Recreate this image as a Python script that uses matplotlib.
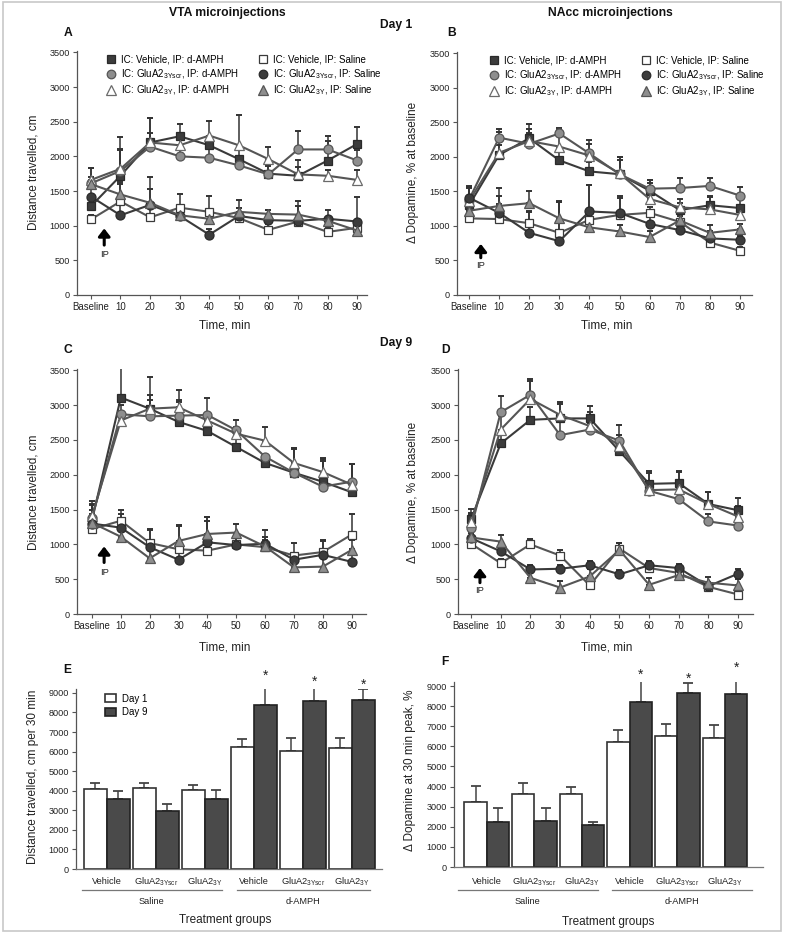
import matplotlib
matplotlib.use('Agg')
import numpy as np
import matplotlib.pyplot as plt
from matplotlib.lines import Line2D
from matplotlib.patches import Rectangle
import matplotlib.transforms as mtransforms

plt.rcParams['font.family'] = ['Liberation Sans', 'DejaVu Sans']
plt.rcParams['mathtext.fontset'] = 'custom'
plt.rcParams['mathtext.rm'] = 'Liberation Sans'
plt.rcParams['mathtext.it'] = 'Liberation Sans:italic'
plt.rcParams['mathtext.bf'] = 'Liberation Sans:bold'
plt.rcParams['mathtext.default'] = 'regular'

# ---------------- data ----------------
time_labels = ['Baseline', '10', '20', '30', '40', '50', '60', '70', '80', '90']

series_labels = ['IC: Vehicle, IP: d-AMPH', r'IC: GluA2$_{3Yscr}$, IP: d-AMPH',
                 r'IC: GluA2$_{3Y}$, IP: d-AMPH', 'IC: Vehicle, IP: Saline',
                 r'IC: GluA2$_{3Yscr}$, IP: Saline', r'IC: GluA2$_{3Y}$, IP: Saline']

# Panel A: VTA, Day 1, distance travelled (cm)
a_veh_amph = [1280, 1720, 2200, 2290, 2160, 1960, 1750, 1720, 1940, 2180]
a_scr_amph = [1610, 1790, 2140, 2000, 1980, 1870, 1740, 2100, 2100, 1940]
a_3y_amph = [1660, 1820, 2200, 2160, 2300, 2160, 1960, 1740, 1720, 1660]
a_veh_sal = [1090, 1350, 1120, 1260, 1200, 1110, 940, 1060, 910, 970]
a_scr_sal = [1420, 1150, 1300, 1140, 870, 1140, 1080, 1070, 1100, 1060]
a_3y_sal = [1600, 1450, 1330, 1150, 1100, 1200, 1170, 1160, 1070, 930]
a_veh_amph_err = [150, 560, 350, 180, 100, 160, 150, 230, 360, 250]
a_scr_amph_err = [220, 300, 200, 100, 130, 100, 120, 260, 120, 150]
a_3y_amph_err = [170, 290, 360, 120, 210, 440, 180, 100, 80, 150]
a_veh_sal_err = [60, 280, 200, 200, 230, 150, 80, 100, 70, 100]
a_scr_sal_err = [150, 250, 230, 150, 80, 120, 140, 280, 120, 360]
a_3y_sal_err = [100, 150, 370, 80, 120, 170, 60, 120, 50, 80]

# Panel B: NAcc, Day 1, dopamine (% at baseline)
b_veh_amph = [1300, 2030, 2270, 1950, 1790, 1750, 1510, 1230, 1300, 1260]
b_scr_amph = [1380, 2280, 2190, 2340, 2050, 1750, 1540, 1550, 1580, 1440]
b_3y_amph = [1360, 2060, 2230, 2150, 2020, 1760, 1390, 1270, 1240, 1160]
b_veh_sal = [1110, 1100, 1040, 900, 1090, 1160, 1190, 1060, 760, 640]
b_scr_sal = [1410, 1190, 900, 780, 1210, 1190, 1030, 940, 820, 800]
b_3y_sal = [1220, 1290, 1330, 1110, 980, 920, 840, 1080, 900, 950]
b_veh_amph_err = [250, 150, 210, 150, 130, 250, 150, 100, 120, 150]
b_scr_amph_err = [180, 130, 150, 80, 200, 250, 130, 140, 120, 120]
b_3y_amph_err = [200, 300, 180, 240, 170, 200, 230, 120, 200, 100]
b_veh_sal_err = [60, 220, 180, 450, 500, 250, 80, 80, 50, 60]
b_scr_sal_err = [170, 250, 300, 570, 380, 240, 140, 100, 100, 60]
b_3y_sal_err = [180, 260, 170, 250, 120, 100, 80, 200, 120, 80]

# Panel C: VTA, Day 9, distance travelled (cm)
c_veh_amph = [1350, 3110, 2950, 2760, 2630, 2400, 2170, 2030, 1900, 1750]
c_scr_amph = [1380, 2870, 2840, 2850, 2860, 2640, 2260, 2030, 1830, 1900]
c_3y_amph = [1410, 2780, 2950, 2970, 2780, 2590, 2490, 2170, 2040, 1860]
c_veh_sal = [1220, 1340, 1020, 930, 910, 1000, 960, 840, 890, 1140]
c_scr_sal = [1300, 1240, 960, 780, 1030, 990, 1010, 780, 850, 750]
c_3y_sal = [1310, 1110, 800, 1050, 1150, 1170, 970, 670, 680, 920]
c_veh_amph_err = [230, 420, 130, 280, 200, 200, 30, 350, 300, 400]
c_scr_amph_err = [250, 130, 570, 230, 250, 150, 30, 350, 400, 250]
c_3y_amph_err = [150, 130, 200, 250, 100, 100, 200, 200, 200, 300]
c_veh_sal_err = [200, 150, 200, 350, 480, 120, 240, 180, 180, 300]
c_scr_sal_err = [200, 200, 250, 100, 300, 100, 100, 100, 200, 180]
c_3y_sal_err = [130, 150, 250, 220, 250, 120, 100, 150, 200, 150]

# Panel D: NAcc, Day 9, dopamine (% at baseline)
d_veh_amph = [1360, 2450, 2790, 2810, 2810, 2340, 1870, 1880, 1580, 1490]
d_scr_amph = [1230, 2900, 3150, 2570, 2650, 2490, 1770, 1650, 1330, 1270]
d_3y_amph = [1320, 2650, 3090, 2860, 2700, 2420, 1780, 1790, 1580, 1400]
d_veh_sal = [1010, 730, 1000, 840, 410, 940, 660, 590, 390, 280]
d_scr_sal = [1090, 900, 640, 650, 700, 570, 700, 660, 400, 580]
d_3y_sal = [1100, 1040, 520, 380, 540, 920, 420, 560, 450, 410]
d_veh_amph_err = [150, 170, 180, 200, 180, 150, 180, 180, 170, 180]
d_scr_amph_err = [200, 230, 220, 200, 100, 220, 100, 100, 100, 100]
d_3y_amph_err = [130, 200, 260, 180, 200, 150, 250, 250, 180, 150]
d_veh_sal_err = [60, 60, 80, 80, 80, 80, 60, 60, 60, 60]
d_scr_sal_err = [80, 100, 60, 60, 60, 60, 60, 60, 60, 60]
d_3y_sal_err = [80, 100, 80, 100, 100, 100, 100, 60, 80, 100]

# Panels E/F: bar charts
bar_labels = ['Vehicle', r'GluA2$_{3Yscr}$', r'GluA2$_{3Y}$',
              'Vehicle', r'GluA2$_{3Yscr}$', r'GluA2$_{3Y}$']
group_labels = ['Saline', 'd-AMPH']
e_day1 = [4080, 4150, 4020, 6240, 6020, 6170]
e_day9 = [3580, 2980, 3580, 8400, 8590, 8660]
e_day1_err = [340, 270, 250, 390, 690, 510]
e_day9_err = [400, 340, 470, 1250, 760, 530]
f_day1 = [3230, 3620, 3620, 6200, 6500, 6430]
f_day9 = [2240, 2290, 2080, 8190, 8670, 8600]
f_day1_err = [820, 560, 350, 610, 600, 650]
f_day9_err = [700, 620, 150, 1140, 470, 1060]
signif = [False, False, False, True, True, True]

# ---------------- styles ----------------
DARK = '#3c3c3c'
GRAY = '#8e8e8e'
styles = [
    dict(marker='s', mfc=DARK, mec='#2a2a2a', color='#3a3a3a', ms=6.2),
    dict(marker='o', mfc=GRAY, mec='#555555', color='#555555', ms=6.5),
    dict(marker='^', mfc='white', mec='#6a6a6a', color='#555555', ms=7.2),
    dict(marker='s', mfc='white', mec='#3a3a3a', color='#555555', ms=6.2),
    dict(marker='o', mfc=DARK, mec='#2a2a2a', color='#3a3a3a', ms=6.5),
    dict(marker='^', mfc=GRAY, mec='#555555', color='#555555', ms=7.2),
]

W, H = 788, 938
fig = plt.figure(figsize=(W / 100, H / 100), dpi=100)


def rect(l, r, b, t):
    return [l / W, 1 - b / H, (r - l) / W, (b - t) / H]


def ftext(x, y, s, **kw):
    fig.text(x / W, 1 - y / H, s, **kw)


def style_axes(ax):
    for sp in ['top', 'right']:
        ax.spines[sp].set_visible(False)
    for sp in ['left', 'bottom']:
        ax.spines[sp].set_color('#555555')
        ax.spines[sp].set_linewidth(0.9)
    ax.tick_params(direction='out', length=3, width=0.8, color='#555555',
                   labelsize=6.6, pad=2, labelcolor='#222222')


def line_panel(rect_px, vals, errs, xlim, arrow, legend_anchor=None):
    ax = fig.add_axes(rect(*rect_px))
    x = np.arange(len(time_labels))
    for v, e, st in zip(vals, errs, styles):
        ax.errorbar(x, v, yerr=[np.zeros(len(e)), e], fmt='none',
                    ecolor='#333333', elinewidth=1.1, capsize=2.3, capthick=1.4, zorder=2)
    for v, st in zip(vals, styles):
        ax.plot(x, v, linestyle='-', lw=1.5, color=st['color'], marker=st['marker'],
                ms=st['ms'], mfc=st['mfc'], mec=st['mec'], mew=0.9, zorder=3)
    ax.set_xlim(*xlim)
    ax.set_ylim(0, 3520)
    ax.set_yticks(np.arange(0, 3501, 500))
    ax.set_xticks(x)
    ax.set_xticklabels(time_labels)
    style_axes(ax)
    ax.tick_params(axis='x', labelsize=6.9)
    ax_x, tip, tail, iptxt = arrow
    ax.annotate('', xy=(ax_x, tip), xytext=(ax_x, tail),
                arrowprops=dict(arrowstyle='-|>,head_length=0.45,head_width=0.35',
                                lw=2.2, color='black', shrinkA=0, shrinkB=0))
    ax.text(ax_x, iptxt, 'IP', ha='center', va='center', fontsize=6.8, color='#222222')
    if legend_anchor is not None:
        handles = [Line2D([], [], linestyle='None', marker=st['marker'], ms=st['ms'] * 0.95,
                          mfc=st['mfc'], mec=st['mec'], mew=0.9) for st in styles]
        ax.legend(handles, series_labels, ncol=2, loc='upper left',
                  bbox_to_anchor=legend_anchor, frameon=False, fontsize=7,
                  handlelength=1.0, handletextpad=0.5, columnspacing=2.0,
                  labelspacing=0.28, borderaxespad=0, borderpad=0)
    return ax


# Panel A
line_panel((77, 367, 295, 51),
           [a_veh_amph, a_scr_amph, a_3y_amph, a_veh_sal, a_scr_sal, a_3y_sal],
           [a_veh_amph_err, a_scr_amph_err, a_3y_amph_err, a_veh_sal_err, a_scr_sal_err, a_3y_sal_err],
           (-0.47, 9.33), (0.45, 960, 720, 590), legend_anchor=(0.1, 0.985))
# Panel B
line_panel((457, 752, 295, 52),
           [b_veh_amph, b_scr_amph, b_3y_amph, b_veh_sal, b_scr_sal, b_3y_sal],
           [b_veh_amph_err, b_scr_amph_err, b_3y_amph_err, b_veh_sal_err, b_scr_sal_err, b_3y_sal_err],
           (-0.4, 9.4), (0.39, 740, 540, 430), legend_anchor=(0.11, 0.985))
# Panel C
line_panel((77, 366, 614, 369),
           [c_veh_amph, c_scr_amph, c_3y_amph, c_veh_sal, c_scr_sal, c_3y_sal],
           [c_veh_amph_err, c_scr_amph_err, c_3y_amph_err, c_veh_sal_err, c_scr_sal_err, c_3y_sal_err],
           (-0.52, 9.5), (0.42, 970, 740, 600))
# Panel D
line_panel((458, 753, 614, 369),
           [d_veh_amph, d_scr_amph, d_3y_amph, d_veh_sal, d_scr_sal, d_3y_sal],
           [d_veh_amph_err, d_scr_amph_err, d_3y_amph_err, d_veh_sal_err, d_scr_sal_err, d_3y_sal_err],
           (-0.44, 9.5), (0.3, 660, 450, 340))


def bar_panel(rect_px, d1, d9, e1, e9, xlim, line_y, txt_y, tick_y, sal_rng, amph_rng,
              legend=False):
    ax = fig.add_axes(rect(*rect_px))
    x = np.arange(len(bar_labels))
    w = 0.47
    ax.bar(x - w / 2, d1, width=w, color='white', edgecolor='#333333', lw=1.2, zorder=2)
    ax.bar(x + w / 2, d9, width=w, color='#4a4a4a', edgecolor='#222222', lw=1.2, zorder=2)
    ax.errorbar(x - w / 2, d1, yerr=[np.zeros(len(e1)), e1], fmt='none', ecolor='#444444',
                elinewidth=1.1, capsize=3.5, capthick=1.3, zorder=1)
    ax.errorbar(x + w / 2, d9, yerr=[np.zeros(len(e9)), e9], fmt='none', ecolor='#444444',
                elinewidth=1.1, capsize=3.5, capthick=1.3, zorder=1)
    for xi, v, e, s in zip(x, d9, e9, signif):
        if s:
            ax.text(xi + w / 2, v + e + 230, '*', ha='center', va='center', fontsize=10,
                    color='#222222')
    ax.set_xlim(*xlim)
    ax.set_ylim(0, 9200)
    ax.set_yticks(np.arange(0, 9001, 1000))
    ax.set_xticks([])
    style_axes(ax)
    ax.spines['bottom'].set_color('#777777')
    trans = mtransforms.blended_transform_factory(ax.transData, ax.transAxes)
    for xi, lab in zip(x, bar_labels):
        ax.text(xi, tick_y, lab, transform=trans, ha='center', va='center', fontsize=6.7,
                color='#222222')
    for (a, b), g in zip([sal_rng, amph_rng], group_labels):
        ax.plot([a, b], [line_y, line_y], transform=trans, color='#777777', lw=0.9,
                clip_on=False)
        ax.text((a + b) / 2, txt_y, g, transform=trans, ha='center', va='center',
                fontsize=6.7, color='#222222')
    if legend:
        handles = [Rectangle((0, 0), 1, 1, facecolor='white', edgecolor='#333333', lw=1.2),
                   Rectangle((0, 0), 1, 1, facecolor='#4a4a4a', edgecolor='#222222', lw=1.2)]
        ax.legend(handles, ['Day 1', 'Day 9'], loc='upper left', bbox_to_anchor=(0.095, 0.975),
                  frameon=False, fontsize=7, handlelength=1.1, handleheight=0.9,
                  handletextpad=0.6, labelspacing=0.35, borderaxespad=0, borderpad=0)
    return ax


bar_panel((76, 382, 869, 689), e_day1, e_day9, e_day1_err, e_day9_err, (-0.63, 5.62),
          -0.117, -0.178, -0.072, (-0.51, 2.35), (2.65, 5.37), legend=True)
bar_panel((454, 763, 867, 682), f_day1, f_day9, f_day1_err, f_day9_err, (-0.69, 5.8),
          -0.124, -0.184, -0.08, (-0.61, 2.33), (2.63, 5.57))

# ---------------- figure texts ----------------
bold = dict(fontweight='bold', color='#111111')
ftext(227, 13, 'VTA microinjections', ha='center', va='center', fontsize=8.7, **bold)
ftext(610, 13, 'NAcc microinjections', ha='center', va='center', fontsize=8.7, **bold)
ftext(396, 25, 'Day 1', ha='center', va='center', fontsize=8.7, **bold)
ftext(396, 343, 'Day 9', ha='center', va='center', fontsize=8.7, **bold)
for (px, py), let in zip([(68, 33), (452, 33), (68, 350), (446, 350), (67, 670), (445, 662)],
                         'ABCDEF'):
    ftext(px, py, let, ha='center', va='center', fontsize=8.7, **bold)

lab = dict(fontsize=8.5, color='#222222', ha='center', va='center')
ftext(225, 325, 'Time, min', **lab)
ftext(607, 325, 'Time, min', **lab)
ftext(225, 647, 'Time, min', **lab)
ftext(607, 647, 'Time, min', **lab)
ftext(225, 920, 'Treatment groups', **lab)
ftext(608, 922, 'Treatment groups', **lab)
ftext(33, 172, 'Distance travelled, cm', rotation=90, **lab)
ftext(413, 172, '\u0394 Dopamine, % at baseline', rotation=90, **lab)
ftext(33, 492, 'Distance travelled, cm', rotation=90, **lab)
ftext(413, 492, '\u0394 Dopamine, % at baseline', rotation=90, **lab)
ftext(33, 777, 'Distance travelled, cm per 30 min', rotation=90, **lab)
ftext(410, 770, '\u0394 Dopamine at 30 min peak, %', rotation=90, **lab)

# outer frame
fig.patches.append(Rectangle((3 / W, 1 - 931 / H), 778 / W, 929 / H, transform=fig.transFigure,
                             fill=False, edgecolor='#c8c8c8', lw=1.2))

fig.savefig('out.png', dpi=100)
